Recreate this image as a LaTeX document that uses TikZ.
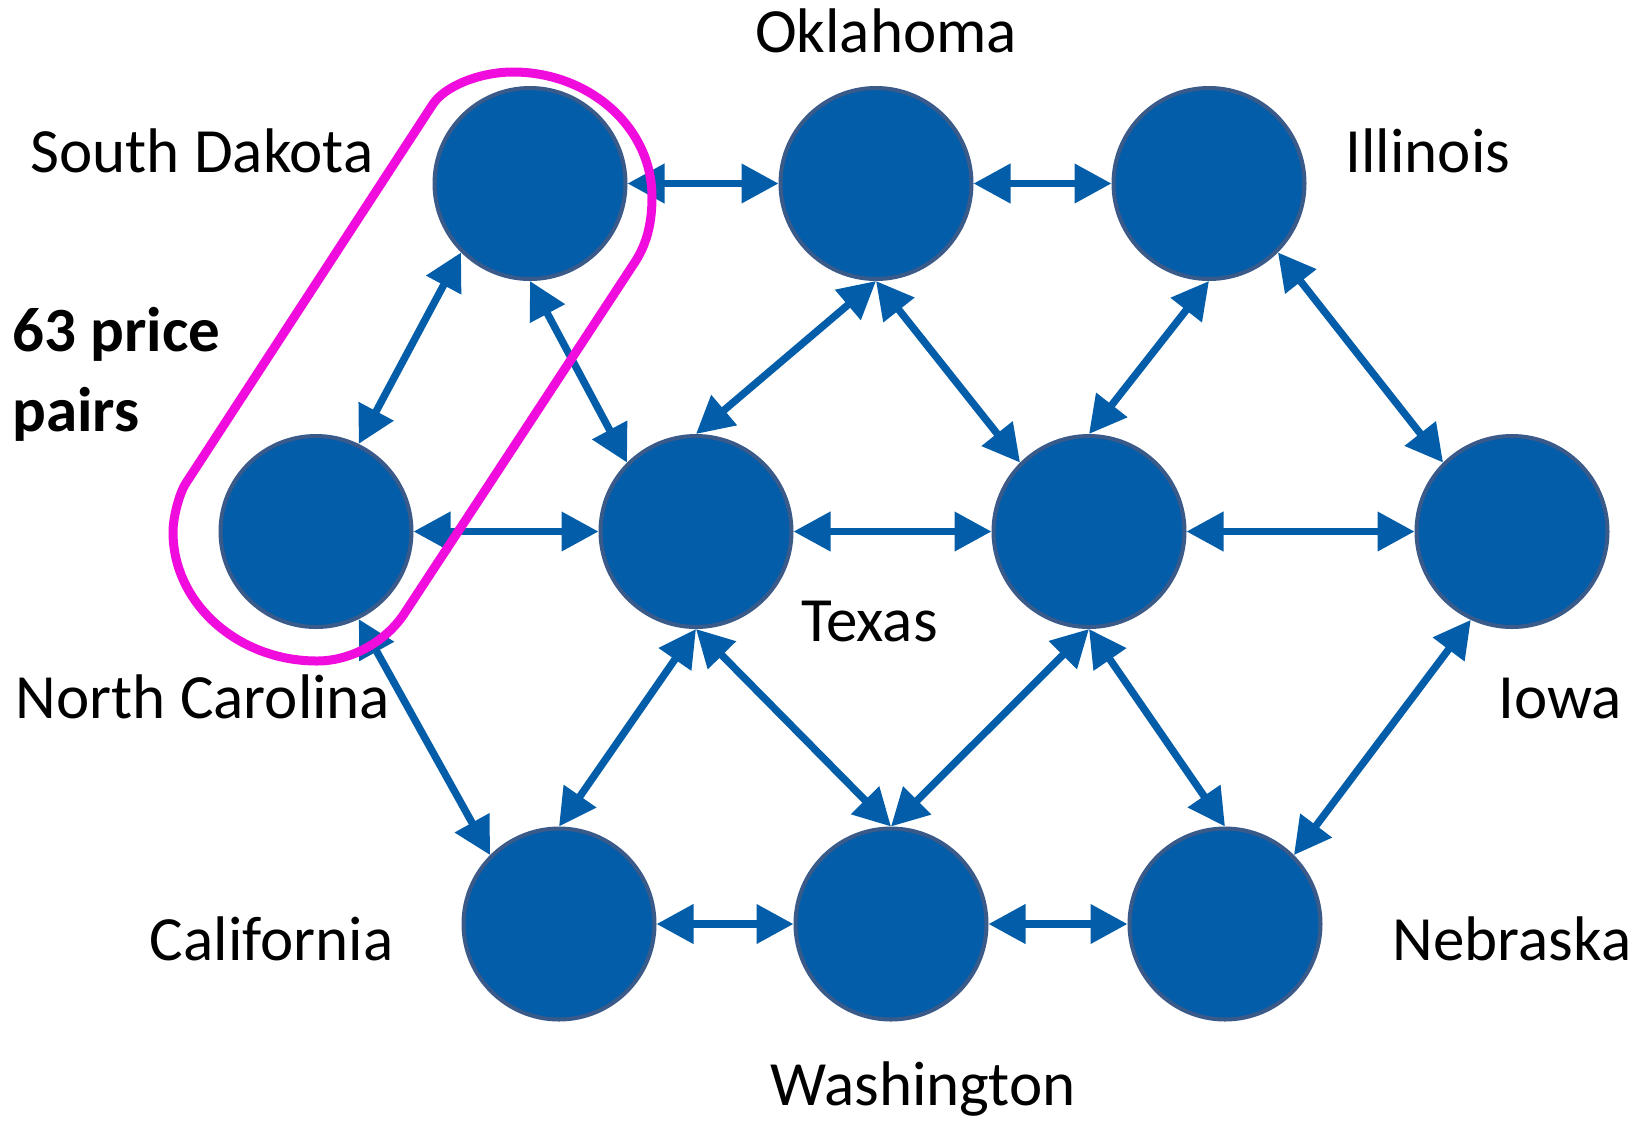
\documentclass[tikz,border=0pt]{standalone}
\usepackage{fontspec}
\setmainfont{Carlito}
\usetikzlibrary{arrows.meta}
\definecolor{nodeblue}{RGB}{3,93,168}
\definecolor{rimblue}{RGB}{58,90,138}
\definecolor{linkblue}{RGB}{3,93,168}
\definecolor{groupmagenta}{RGB}{240,12,220}

\begin{document}
\begin{tikzpicture}[x=0.5pt,y=-0.5pt,
  market/.style={circle, fill=nodeblue, draw=rimblue, line width=2pt,
    minimum size=95.5pt, inner sep=0pt},
  link/.style={draw=linkblue, line width=3.7pt,
    {Triangle[length=18.5pt,width=19pt]}-{Triangle[length=18.5pt,width=19pt]}},
  statename/.style={font=\fontsize{31.5pt}{38pt}\selectfont, anchor=base, inner sep=0pt},
  notetext/.style={font=\fontsize{31.5pt}{38pt}\selectfont\bfseries, anchor=base west, inner sep=0pt},
  group/.style={draw=groupmagenta, line width=4.5pt, line join=round}]
\useasboundingbox (0,0) rectangle (1639,1121);

% markets
\node[market] (sd)  at (530,183.5) {};
\node[market] (ok)  at (876,183.5) {};
\node[market] (il)  at (1209,183.5) {};
\node[market] (nc)  at (316,531.5) {};
\node[market] (tx)  at (696,531.5) {};
\node[market] (mid) at (1089,531.5) {};
\node[market] (ia)  at (1512,531.5) {};
\node[market] (ca)  at (559,924) {};
\node[market] (wa)  at (891,924) {};
\node[market] (ne)  at (1225,924) {};

% price links
\draw[link] (sd.0) -- (ok.180);
\draw[link] (ok.0) -- (il.180);
\draw[link] (sd.225) -- (nc.64);
\draw[link] (sd.270) -- (tx.135);
\draw[link] (nc.0) -- (tx.180);
\draw[link] (nc.-64) -- (ca.135);
\draw[link] (ok.270) -- (tx.90);
\draw[link] (ok.270) -- (mid.135);
\draw[link] (il.270) -- (mid.90);
\draw[link] (il.-45) -- (ia.135);
\draw[link] (tx.0) -- (mid.180);
\draw[link] (mid.0) -- (ia.180);
\draw[link] (tx.270) -- (ca.90);
\draw[link] (tx.270) -- (wa.90);
\draw[link] (mid.270) -- (wa.90);
\draw[link] (mid.270) -- (ne.90);
\draw[link] (ia.245) -- (ne.45);
\draw[link] (ca.0) -- (wa.180);
\draw[link] (wa.0) -- (ne.180);

% state names
\node[statename] (lsd) at (202,172.5) {South Dakota};
\node[statename] (lok) at (886,52) {Oklahoma};
\node[statename] (lil) at (1428,172.5) {Illinois};
\node[statename] (lnc) at (203,718.5) {North Carolina};
\node[statename] (ltx) at (869.5,641) {Texas};
\node[statename] (lia) at (1560,718.5) {Iowa};
\node[statename] (lca) at (271.7,960) {California};
\node[statename] (lwa) at (923,1105) {Washington};
\node[statename] (lne) at (1512,960) {Nebraska};

% pair count
\node[notetext] (n1) at (12,351) {63 price};
\node[notetext] (n2) at (12,431) {pairs};

% outline around one pair
\draw[group] (186,483) -- (433,104)
  .. controls (445,86) and (480,72) .. (513,72)
  .. controls (589,72) and (652,127) .. (652,197)
  .. controls (652,225) and (646,245) .. (635,262)
  -- (404,614)
  .. controls (386,641) and (352,661) .. (317,661)
  .. controls (237.5,661) and (173,603) .. (173,532)
  .. controls (173,517) and (179.4,493) .. (186,483) -- cycle;
\end{tikzpicture}
\end{document}
